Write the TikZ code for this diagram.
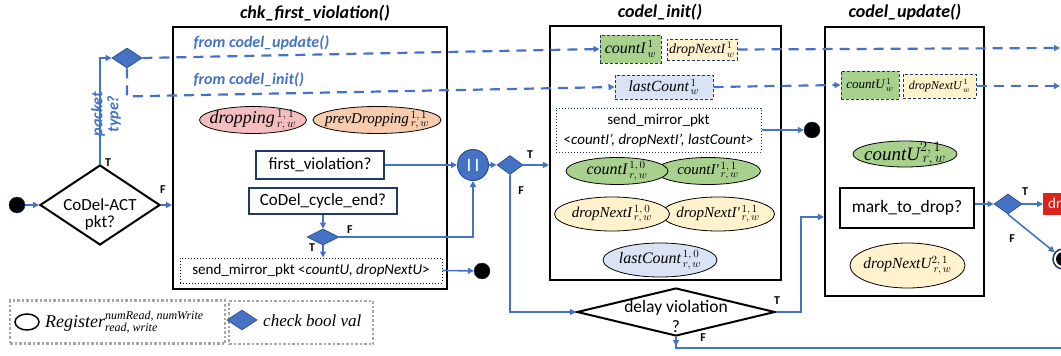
\documentclass[tikz,border=0pt]{standalone}
\usepackage{fontspec}
\setmainfont{Carlito}
\newfontfamily\regfont{Liberation Serif}
\usetikzlibrary{shapes.geometric,arrows.meta}
\definecolor{lineblue}{HTML}{4472C4}
\definecolor{dkblue}{HTML}{2F528F}
\definecolor{navy}{HTML}{1F3864}
\definecolor{regpink}{HTML}{F5BDBD}
\definecolor{regpeach}{HTML}{F8CBAD}
\definecolor{reggreen}{HTML}{A9D18E}
\definecolor{regyellow}{HTML}{FFF2CC}
\definecolor{regblue}{HTML}{DAE3F3}
\definecolor{dropred}{HTML}{D9231D}
\newcommand{\fs}[1]{\fontsize{#1}{#1}\selectfont}

\begin{document}
\begin{tikzpicture}[x=1pt,y=-1pt,
    flow/.style={draw=lineblue,line width=1.6pt,-{Triangle[length=6pt,width=6pt]}},
    link/.style={draw=lineblue,line width=1.6pt},
    dash link/.style={draw=lineblue,line width=2.2pt,dash pattern=on 10pt off 7pt,-{Triangle[length=6pt,width=6pt]}},
    func box/.style={draw=black,line width=2.2pt,inner sep=0},
    cond box/.style={draw=navy,line width=2pt,fill=white,inner sep=0,font=\fs{17}},
    check node/.style={diamond,fill=lineblue,draw=dkblue,line width=0.8pt,inner sep=0},
    reg node/.style={ellipse,draw=black,line width=0.8pt,inner sep=0},
    var box/.style={draw=navy,dash pattern=on 3pt off 2pt,line width=1pt,inner sep=0},
    end dot/.style={circle,fill=black,draw=navy,minimum size=16pt,inner sep=0},
    tf/.style={font=\bfseries\fs{12}},
    title/.style={font=\bfseries\itshape\fs{18}},
    blue note/.style={text=lineblue,font=\bfseries\itshape\fs{16}},
    legend box/.style={draw=black!35,dotted,line width=2.5pt}]
    \useasboundingbox (0,0) rectangle (1061,356);
    \clip (0,0) rectangle (1061,356);

    % function boxes and titles
    \node[func box,minimum width=274pt,minimum height=262pt] (chk) at (310,158) {};
    \node[func box,minimum width=231pt,minimum height=254pt] (init) at (665.5,153) {};
    \node[func box,minimum width=159pt,minimum height=269pt] (upd) at (904.5,161.5) {};
    \node[title] (chkT) at (315,13) {chk\_first\_violation()};
    \node[title] (initT) at (660,12) {codel\_init()};
    \node[title] (updT) at (905,12) {codel\_update()};

    % entry
    \node[end dot] (start) at (17,205) {};
    \node[check node,fill=white,draw=black,line width=2pt,minimum width=120pt,minimum height=80pt,
        label={[align=center,font=\fs{17},yshift=-9pt]center:CoDel-ACT\\pkt?}] (act) at (100,205) {};
    \node[check node,minimum width=30pt,minimum height=20pt] (pt) at (127,58) {};
    \node[blue note,rotate=90,align=center] (ptype) at (106,114) {packet\\type?};
    \node[blue note,anchor=west] (fromU) at (190,43) {from codel\_update()};
    \node[blue note,anchor=west] (fromI) at (190,80) {from codel\_init()};

    % chk_first_violation()
    \node[reg node,fill=regpink,minimum width=107pt,minimum height=27pt,
        label={center:{\fs{18}\regfont\itshape dropping$^{\,1,\,1}_{\,r,\,w}$}}] (dropping) at (253,120) {};
    \node[reg node,fill=regpeach,minimum width=128pt,minimum height=27pt,
        label={center:{\fs{15}\regfont\itshape prevDropping$^{\,1,\,1}_{\,r,\,w}$}}] (prevDrop) at (377,120) {};
    \node[cond box,minimum width=128pt,minimum height=28pt] (fv) at (320,165) {first\_violation?};
    \node[cond box,minimum width=148pt,minimum height=26pt] (ce) at (323,201) {CoDel\_cycle\_end?};
    \node[check node,minimum width=32pt,minimum height=16pt] (cd) at (323,237) {};
    \node[draw,dotted,line width=1pt,minimum width=262pt,minimum height=25pt,inner sep=0,font=\fs{15}] (smU) at (311,270.5)
        {send\_mirror\_pkt <\textit{countU, dropNextU}>};
    \node[end dot] (smUdot) at (482,271) {};
    \node[circle,fill=lineblue,draw=dkblue,line width=1pt,minimum size=31pt,inner sep=0,text=white,font=\fs{19}] (orN) at (473,165) {I\,I};
    \node[check node,minimum width=26pt,minimum height=19pt] (vd) at (510,165) {};

    % codel_init()
    \node[var box,fill=reggreen,minimum width=61pt,minimum height=28pt,
        label={center:{\fs{16}\regfont\itshape countI$^{\,1}_{\,w}$}}] (cntI) at (630.5,49) {};
    \node[var box,fill=regyellow,minimum width=70pt,minimum height=21pt,
        label={center:{\fs{14}\regfont\itshape dropNextI$^{\,1}_{\,w}$}}] (dnI) at (702,49.5) {};
    \node[var box,fill=regblue,minimum width=98pt,minimum height=24pt,
        label={center:{\fs{15.5}\regfont\itshape lastCount$^{\,1}_{\,w}$}}] (lastC) at (664,87) {};
    \node[draw=navy,dotted,line width=1pt,minimum width=205pt,minimum height=44pt,inner sep=0,align=center,
        font=\fontsize{15}{20}\selectfont] (smI) at (658.5,130)
        {send\_mirror\_pkt\\<\textit{countI', dropNextI', lastCount}>};
    \node[end dot] (smIdot) at (812,130) {};
    \node[reg node,fill=reggreen,minimum width=105pt,minimum height=27pt,
        label={center:{\fs{15}\regfont\itshape countI'$^{\,1,\,1}_{\,r,\,w}$}}] (cntI2) at (708,171) {};
    \node[reg node,fill=reggreen,minimum width=102pt,minimum height=27pt,
        label={center:{\fs{16}\regfont\itshape countI$^{\,1,\,0}_{\,r,\,w}$}}] (cntI1) at (617,171) {};
    \node[reg node,fill=regyellow,minimum width=113pt,minimum height=34pt,
        label={center:{\fs{15}\regfont\itshape dropNextI'$^{\,1,\,1}_{\,r,\,w}$}}] (dnI2) at (718,214) {};
    \node[reg node,fill=regyellow,minimum width=115pt,minimum height=34pt,
        label={center:{\fs{15}\regfont\itshape dropNextI$^{\,1,\,0}_{\,r,\,w}$}}] (dnI1) at (612,214) {};
    \node[reg node,fill=regblue,minimum width=114pt,minimum height=34pt,
        label={center:{\fs{16}\regfont\itshape lastCount$^{\,1,\,0}_{\,r,\,w}$}}] (lastC1) at (660,260) {};

    % delay violation
    \node[check node,fill=white,draw=black,line width=2pt,minimum width=198pt,minimum height=48pt] (delay) at (676,312) {};
    \node[align=center,font=\fontsize{17.5}{20}\selectfont] (delayT) at (676,316) {delay violation\\?};

    % codel_update()
    \node[var box,fill=reggreen,minimum width=58pt,minimum height=28pt,
        label={center:{\fs{13}\regfont\itshape countU$^{\,1}_{\,w}$}}] (cntU) at (870,85) {};
    \node[var box,fill=regyellow,minimum width=73pt,minimum height=24pt,
        label={center:{\fs{12}\regfont\itshape dropNextU$^{\,1}_{\,w}$}}] (dnU) at (939.5,86) {};
    \node[reg node,fill=reggreen,minimum width=104pt,minimum height=26pt,
        label={center:{\fs{19}\regfont\itshape countU$^{2,\,1}_{\,r,\,w}$}}] (cntU2) at (905,154) {};
    \node[draw=black,line width=2.2pt,minimum width=134pt,minimum height=40pt,inner sep=0,font=\fs{17.5}] (mtd) at (907,208) {mark\_to\_drop?};
    \node[reg node,fill=regyellow,minimum width=115pt,minimum height=45pt,
        label={center:{\fs{15.5}\regfont\itshape dropNextU$^{2,\,1}_{\,r,\,w}$}}] (dnU2) at (907.5,265.5) {};
    \node[check node,minimum width=28pt,minimum height=20pt] (md) at (1008,204) {};
    \node[fill=dropred,text=white,anchor=west,minimum height=22pt,inner sep=5pt,font=\fs{15}] (dropPkt) at (1043,204) {drop};
    \node[circle,draw=navy,line width=1.5pt,fill=white,minimum size=20pt,inner sep=0] (fin) at (1063,259) {};
    \fill (fin.center) circle (7pt);

    \coordinate (updIn) at (824,217);
    \coordinate (outA) at (1060,48);
    \coordinate (outB) at (1060,86);
    \coordinate (outC) at (1061,348);

    % connectors
    \draw[flow] (start) -- (act.west);
    \draw[flow] (act.east) -- (act.east -| chk.west);
    \draw[flow] (act.north) |- (pt.west);
    \draw[dash link] (pt.east) -- (cntI.west);
    \draw[dash link] (pt.south) -- ++(0,28) -- (lastC.west);
    \draw[dash link] (dnI.east) -- (outA);
    \draw[dash link] (lastC.east) -- (cntU.west);
    \draw[dash link] (dnU.east) -- (outB);
    \draw[flow] (fv.east) -- (orN.west);
    \draw[flow] (orN.east) -- (vd.west);
    \draw[flow] (vd.east) -- (vd.east -| init.west);
    \draw[flow] (ce.south) -- (cd.north);
    \draw[flow] (cd.east) -| (orN.south);
    \draw[flow] (cd.south) -- (cd.south |- smU.north);
    \draw[flow] (smU.east) -- (smUdot);
    \draw[flow] (smI.east) -- (smIdot);
    \draw[flow] (vd.south) |- (delay.west);
    \draw[flow] (delay.east) -- ++(25,0) |- (updIn);
    \draw[link] (delay.south) -- (delay.south |- outC) -- (outC);
    \draw[flow] (delay.south) -- ++(0,9);
    \draw[flow] (mtd.east |- md.west) -- (md.west);
    \draw[flow] (md.east) -- (dropPkt.west);
    \draw[flow] (md.south) -- (fin);

    % T / F
    \node[tf] (actT) at (108,163) {T};
    \node[tf] (actF) at (163,190) {F};
    \node[tf] (cdF) at (350,230) {F};
    \node[tf] (cdT) at (312,248) {T};
    \node[tf] (vdT) at (530,155) {T};
    \node[tf] (vdF) at (521,191) {F};
    \node[tf] (delayTr) at (777,301) {T};
    \node[tf] (delayF) at (703,338) {F};
    \node[tf] (mdT) at (1025,192) {T};
    \node[tf] (mdF) at (1012,239) {F};

    % legend
    \node[legend box,minimum width=215pt,minimum height=43pt] (legReg) at (117.5,322) {};
    \node[legend box,minimum width=144pt,minimum height=43pt] (legChk) at (301,322.5) {};
    \node[reg node,line width=1.5pt,minimum width=24pt,minimum height=16pt] (legEll) at (27,322) {};
    \node[anchor=west,inner sep=0,font=\fs{18}\regfont\itshape] (legRegT) at (45,322)
        {Register$^{\mbox{\fs{12}\regfont\itshape numRead, numWrite}}_{\mbox{\fs{12}\regfont\itshape read, write}}$};
    \node[check node,minimum width=30pt,minimum height=20pt] (legDia) at (242,320) {};
    \node[anchor=west,inner sep=0,font=\fs{17}\regfont\itshape] (legChkT) at (263,321) {check bool val};
\end{tikzpicture}
\end{document}
